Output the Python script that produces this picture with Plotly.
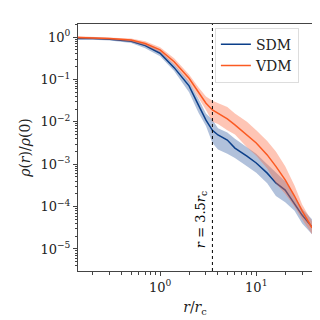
import numpy as np
import plotly.graph_objects as go

# radius in units of core radius
r = [0.14, 0.2, 0.3, 0.5, 0.7, 1.0, 1.4, 2.0, 2.5, 3.0, 3.5, 4.0, 5.0, 6.0,
     8.0, 10, 13, 16, 20, 25, 30, 38]

# log10(rho/rho0)
sdm_mid = [-0.03, -0.03, -0.05, -0.10, -0.2, -0.38, -0.72, -1.15, -1.6, -1.96, -2.2,
           -2.31, -2.43, -2.62, -2.81, -2.97, -3.21, -3.44, -3.61, -3.92, -4.2, -4.48]
sdm_hi = [0.0, 0.0, -0.02, -0.06, -0.15, -0.32, -0.64, -1.05, -1.45, -1.8, -1.95,
          -2.15, -2.25, -2.4, -2.6, -2.75, -3.0, -3.2, -3.4, -3.75, -4.05, -4.3]
sdm_lo = [-0.06, -0.06, -0.08, -0.14, -0.26, -0.45, -0.8, -1.3, -1.78, -2.1, -2.5,
          -2.65, -2.75, -2.85, -3.05, -3.2, -3.45, -3.75, -3.9, -4.1, -4.4, -4.65]

vdm_mid = [-0.01, -0.02, -0.03, -0.07, -0.15, -0.3, -0.58, -0.97, -1.3, -1.56, -1.72,
           -1.8, -1.93, -2.07, -2.3, -2.5, -2.78, -3.05, -3.37, -3.75, -4.1, -4.5]
vdm_hi = [0.02, 0.01, 0.0, -0.03, -0.1, -0.24, -0.5, -0.88, -1.18, -1.4, -1.5,
          -1.55, -1.65, -1.8, -2.0, -2.2, -2.45, -2.7, -3.05, -3.5, -3.95, -4.35]
vdm_lo = [-0.04, -0.05, -0.06, -0.11, -0.2, -0.36, -0.66, -1.07, -1.42, -1.72, -2.0,
          -2.05, -2.2, -2.3, -2.6, -2.8, -3.1, -3.45, -3.7, -4.0, -4.3, -4.65]

r_cut = 3.5

x_ticks = [1, 10]
x_labels = ["10<sup>0</sup>", "10<sup>1</sup>"]
y_ticks = [1, 1e-1, 1e-2, 1e-3, 1e-4, 1e-5]
y_labels = ["10<sup>0</sup>", "10<sup>−1</sup>", "10<sup>−2</sup>",
            "10<sup>−3</sup>", "10<sup>−4</sup>", "10<sup>−5</sup>"]

SERIF = "DejaVu Serif"


def p(v):
  return 10 ** np.array(v)


def minor_vals(lo, hi):
  return [m * 10.0 ** k for k in range(lo, hi) for m in range(2, 10)]


fig = go.Figure()

for name, mid, lo, hi, line_col, band_col in [
    ("SDM", sdm_mid, sdm_lo, sdm_hi, "#0b3f8a", "rgba(60,100,165,0.4)"),
    ("VDM", vdm_mid, vdm_lo, vdm_hi, "#fb5a22", "rgba(252,110,70,0.4)")]:
  fig.add_trace(go.Scatter(x=r, y=p(lo), mode="lines", line=dict(width=0),
                           showlegend=False, hoverinfo="skip"))
  fig.add_trace(go.Scatter(x=r, y=p(hi), mode="lines", line=dict(width=0),
                           fill="tonexty", fillcolor=band_col,
                           showlegend=False, hoverinfo="skip"))
  fig.add_trace(go.Scatter(x=r, y=p(mid), mode="lines", name=name,
                           line=dict(color=line_col, width=1.5)))

fig.add_vline(x=r_cut, line=dict(color="black", width=1, dash="dot"))
fig.add_annotation(x=np.log10(r_cut), y=-4.3, xref="x", yref="y",
                   text="<i>r</i> = 3.5<i>r</i><sub>c</sub>", textangle=-90,
                   showarrow=False, xanchor="right", xshift=-1,
                   font=dict(family=SERIF, size=13, color="black"))

axis_style = dict(
    type="log", showgrid=False, zeroline=False,
    showline=True, linecolor="#444", linewidth=1, mirror=True,
    ticks="outside", ticklen=4, tickcolor="#444",
    tickfont=dict(family=SERIF, size=13, color="#222"),
)
minor_style = dict(ticks="outside", ticklen=2.5, tickwidth=1, tickcolor="#444",
                   tickmode="array", showgrid=False)

fig.update_xaxes(axis_style, range=[np.log10(0.14), np.log10(38)],
                 tickvals=x_ticks, ticktext=x_labels,
                 minor=dict(minor_style, tickvals=minor_vals(-1, 2)),
                 title=dict(text="<i>r</i>/<i>r</i><sub>c</sub>",
                            font=dict(family=SERIF, size=14, color="#222"),
                            standoff=8))
fig.update_yaxes(axis_style, range=[-5.52, 0.31],
                 tickvals=y_ticks, ticktext=y_labels,
                 minor=dict(minor_style, tickvals=minor_vals(-6, 1)),
                 title=dict(text="<i>ρ</i>(<i>r</i>)/<i>ρ</i>(0)",
                            font=dict(family=SERIF, size=14, color="#222"),
                            standoff=6))

fig.update_layout(
    width=320, height=320,
    margin=dict(l=70, r=16, t=16, b=57),
    plot_bgcolor="white", paper_bgcolor="white",
    legend=dict(x=0.585, y=0.985, xanchor="left", yanchor="top",
                traceorder="normal",
                bgcolor="rgba(255,255,255,0.8)", bordercolor="#ddd", borderwidth=1,
                font=dict(family=SERIF, size=14, color="#222")),
)

fig.write_html("out.html")
